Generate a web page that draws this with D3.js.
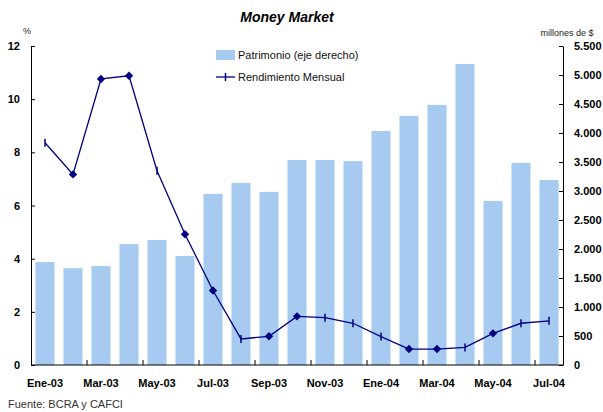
<!DOCTYPE html>
<html>
<head>
<meta charset="utf-8">
<script src="https://cdn.jsdelivr.net/npm/d3@7"></script>
<style>
  html, body { margin: 0; padding: 0; background: #fff; }
  svg { display: block; font-family: "Liberation Sans", Arial, sans-serif; }
</style>
</head>
<body>
<svg id="chart" width="603" height="412"></svg>
<script>
// Months (Jan 2003 – Jul 2004)
const months = ["Ene-03","Feb-03","Mar-03","Abr-03","May-03","Jun-03","Jul-03","Ago-03","Sep-03","Oct-03","Nov-03","Dic-03",
                "Ene-04","Feb-04","Mar-04","Abr-04","May-04","Jun-04","Jul-04"];
// Fund assets, millions of $ (right axis)
const patrimonio = [1775,1670,1705,2085,2155,1880,2950,3140,2985,3535,3535,3515,4035,4295,4485,5190,2830,3485,3190];
// Monthly yield, % (left axis)
const rendimiento = [8.36,7.17,10.76,10.88,7.31,4.92,2.80,0.98,1.08,1.83,1.78,1.57,1.07,0.60,0.60,0.66,1.19,1.57,1.66];
// Points drawn with a diamond marker; the rest use the cross marker
const diamondPoints = ["Feb-03","Mar-03","Abr-03","Jun-03","Jul-03","Sep-03","Oct-03","Feb-04","Mar-04","May-04"];
// Axis ticks and labels
const leftTicks = [0,2,4,6,8,10,12];
const rightTicks = [0,500,1000,1500,2000,2500,3000,3500,4000,4500,5000,5500];
const xLabels = ["Ene-03","Mar-03","May-03","Jul-03","Sep-03","Nov-03","Ene-04","Mar-04","May-04","Jul-04"];

const svg = d3.select("#chart");
const plotL = 31, plotR = 563, plotT = 46, plotB = 365;
const barColor = "#A6CAF0", lineColor = "#000080";

const x = d3.scaleBand().domain(months).range([plotL, plotR]).paddingInner(0.32).paddingOuter(0.16);
const yL = d3.scaleLinear().domain([0, 12]).range([plotB, plotT]);
const yR = d3.scaleLinear().domain([0, 5500]).range([plotB, plotT]);
const esFmt = d3.formatLocale({decimal: ",", thousands: ".", grouping: [3], currency: ["$", ""]}).format(",");

// Bars
svg.append("g").selectAll("rect").data(patrimonio).join("rect")
  .attr("x", (d, i) => x(months[i]))
  .attr("width", x.bandwidth())
  .attr("y", d => yR(d))
  .attr("height", d => plotB - yR(d))
  .attr("fill", barColor);

// Line
const cx = m => x(m) + x.bandwidth() / 2;
const line = d3.line().x((d, i) => cx(months[i])).y(d => yL(d));
svg.append("path").datum(rendimiento).attr("d", line)
  .attr("fill", "none").attr("stroke", lineColor).attr("stroke-width", 1.3);

// Markers
const mk = svg.append("g");
rendimiento.forEach((v, i) => {
  const px = cx(months[i]), py = yL(v);
  if (diamondPoints.includes(months[i])) {
    mk.append("path")
      .attr("d", `M${px},${py - 4.2}L${px + 4.2},${py}L${px},${py + 4.2}L${px - 4.2},${py}Z`)
      .attr("fill", lineColor);
  } else {
    mk.append("line").attr("x1", px).attr("x2", px).attr("y1", py - 4).attr("y2", py + 4)
      .attr("stroke", lineColor).attr("stroke-width", 1.5);
  }
});

// Left axis
const axL = svg.append("g").attr("transform", `translate(${plotL},0)`)
  .call(d3.axisLeft(yL).tickValues(leftTicks).tickSizeInner(-4).tickSizeOuter(0).tickPadding(11));
// Right axis
const axR = svg.append("g").attr("transform", `translate(${plotR},0)`)
  .call(d3.axisRight(yR).tickValues(rightTicks).tickFormat(esFmt).tickSizeInner(-4).tickSizeOuter(0).tickPadding(11));
[axL, axR].forEach(a => {
  a.select(".domain").attr("stroke", "#000");
  a.selectAll(".tick line").attr("stroke", "#000");
  a.selectAll("text").attr("font-size", 11).attr("font-weight", "bold").attr("fill", "#000")
    .attr("font-family", "Liberation Sans, Arial, sans-serif");
});

// Bottom axis
svg.append("line").attr("x1", plotL).attr("x2", plotR).attr("y1", plotB).attr("y2", plotB)
  .attr("stroke", "#000");
const step = x.step();
const bx = svg.append("g");
months.forEach((m, i) => {
  if (i > 0 && i % 2 === 0) {
    const tx = x(m) - step * x.paddingInner() / 2;
    bx.append("line").attr("x1", tx).attr("x2", tx).attr("y1", plotB).attr("y2", plotB - 5)
      .attr("stroke", "#000");
  }
});
bx.selectAll("text").data(xLabels).join("text")
  .attr("x", d => cx(d)).attr("y", 387)
  .attr("text-anchor", "middle").attr("font-size", 11).attr("font-weight", "bold")
  .text(d => d);

// Title and axis units
svg.append("text").attr("x", 287).attr("y", 22).attr("text-anchor", "middle")
  .attr("font-size", 14).attr("font-weight", "bold").attr("font-style", "italic").text("Money Market");
svg.append("text").attr("x", 27).attr("y", 34).attr("text-anchor", "middle")
  .attr("font-size", 9).attr("fill", "#222").text("%");
svg.append("text").attr("x", 567).attr("y", 36).attr("text-anchor", "middle")
  .attr("font-size", 9).attr("fill", "#222").text("millones de $");

// Legend
const lg = svg.append("g");
lg.append("rect").attr("x", 216).attr("y", 50).attr("width", 19).attr("height", 10).attr("fill", barColor);
lg.append("text").attr("x", 238).attr("y", 59).attr("font-size", 11).attr("fill", "#111")
  .text("Patrimonio (eje derecho)");
lg.append("line").attr("x1", 216).attr("x2", 235).attr("y1", 77).attr("y2", 77)
  .attr("stroke", lineColor).attr("stroke-width", 1.3);
lg.append("line").attr("x1", 225.5).attr("x2", 225.5).attr("y1", 73).attr("y2", 81)
  .attr("stroke", lineColor).attr("stroke-width", 1.5);
lg.append("text").attr("x", 238).attr("y", 81).attr("font-size", 11).attr("fill", "#111")
  .text("Rendimiento Mensual");

// Source
svg.append("text").attr("x", 8).attr("y", 408).attr("font-size", 11).attr("fill", "#333")
  .text("Fuente: BCRA y CAFCI");
</script>
</body>
</html>
